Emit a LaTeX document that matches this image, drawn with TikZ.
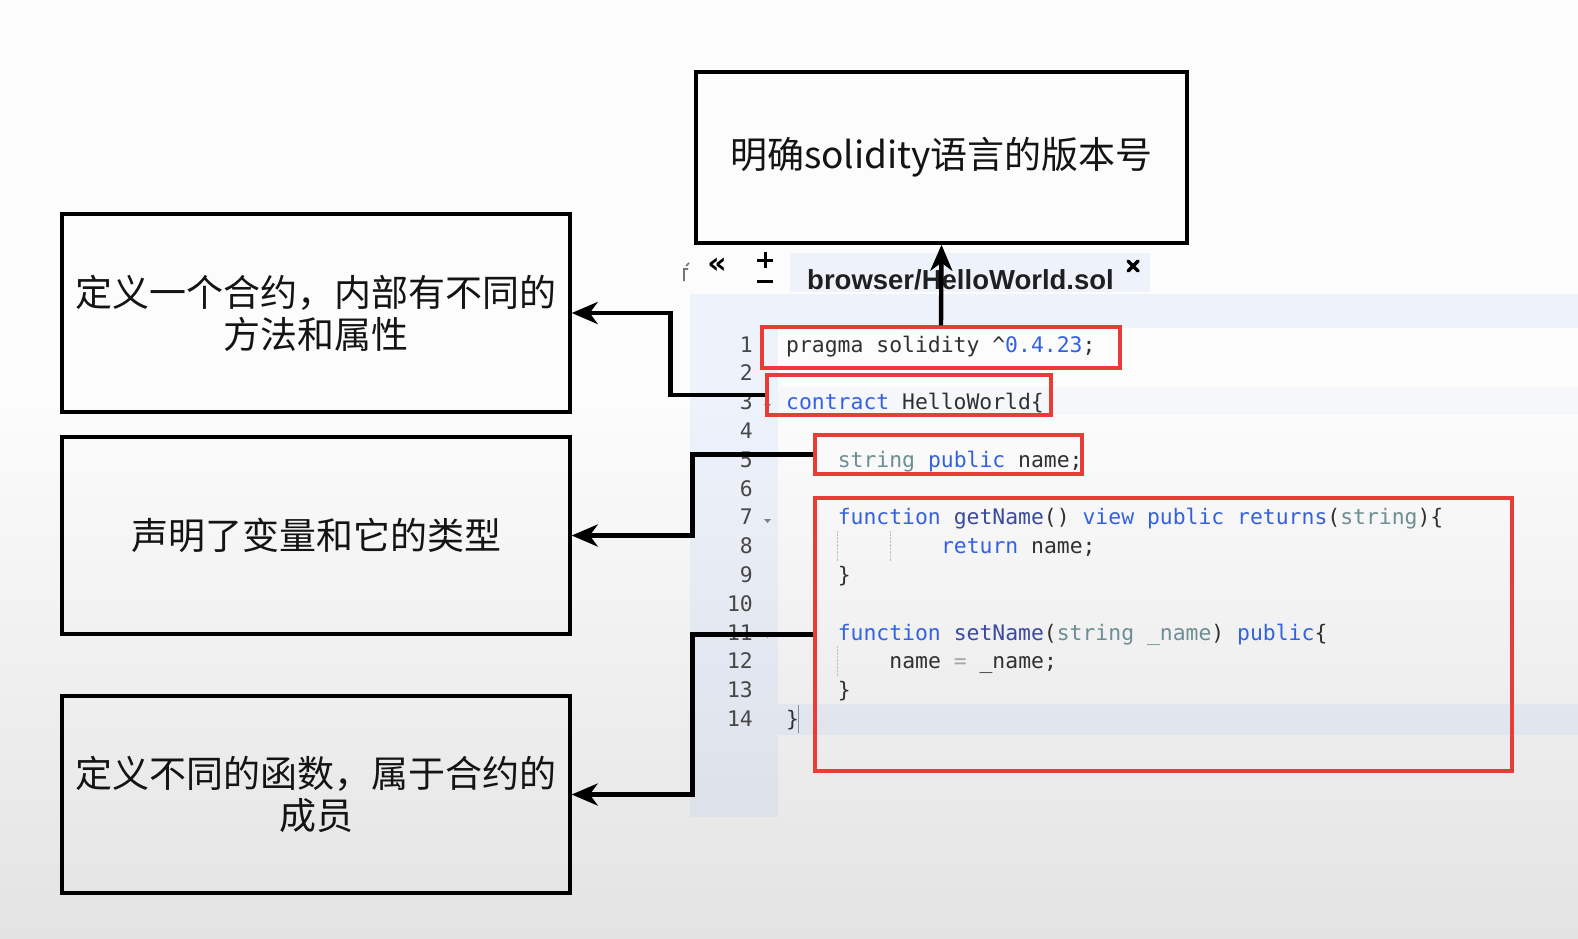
\documentclass[tikz,border=0pt]{standalone}
\usepackage{fontspec}
\newfontfamily\cjk{Noto Sans CJK SC}
\newfontfamily\codefont{DejaVu Sans Mono}
\newfontfamily\tabfont{Liberation Sans}
\newfontfamily\symfont{DejaVu Sans}
\usetikzlibrary{arrows.meta}

\definecolor{bgtop}{RGB}{252,252,252}
\definecolor{bgbot}{RGB}{227,227,227}
\definecolor{kwblue}{RGB}{52,98,222}
\definecolor{tyteal}{RGB}{108,142,148}
\definecolor{fnblue}{RGB}{58,74,158}
\definecolor{codegray}{RGB}{48,48,48}
\definecolor{markred}{RGB}{234,60,54}
\definecolor{paneblue}{RGB}{120,160,250}

\newcommand{\kw}[1]{\textcolor{kwblue}{#1}}
\newcommand{\ty}[1]{\textcolor{tyteal}{#1}}
\newcommand{\fn}[1]{\textcolor{fnblue}{#1}}

\tikzset{
  notebox/.style={draw, line width=3.4pt, minimum width=508pt, minimum height=197pt,
    align=center, text=black!92, font=\cjk\fontsize{37pt}{42pt}\selectfont},
  markbox/.style={draw=markred, line width=3.2pt, inner sep=0pt},
  codeline/.style={anchor=base west, inner sep=0pt, text=codegray,
    font=\codefont\fontsize{21.4pt}{26pt}\selectfont},
  lineno/.style={anchor=base east, inner sep=0pt, text=black!72,
    font=\codefont\fontsize{21.4pt}{26pt}\selectfont},
  pane/.style={fill=paneblue, fill opacity=0.1},
  pointer/.style={line width=4.4pt, -{Stealth[length=26pt,width=22pt,inset=8pt]}},
}

\begin{document}
\begin{tikzpicture}[x=1pt,y=-1pt]
  \useasboundingbox (0,0) rectangle (1578,938);
  % background
  \fill[bgtop] (0,0) rectangle (1578,401);
  \shade[top color=bgtop, bottom color=bgbot] (0,400) rectangle (1578,938);

  % editor
  \fill[pane] (790,253) rectangle (1150,292);
  \fill[pane] (690,294) rectangle (1578,328);
  \fill[pane] (690,328) rectangle (778,817);
  \fill[pane, fill opacity=0.05] (778,387) rectangle (1578,414);
  \fill[pane] (778,704) rectangle (1578,735);
  \node[anchor=base west, inner sep=0pt, text=black!88, font=\tabfont\bfseries\fontsize{27.5pt}{30pt}\selectfont]
    (tab) at (807,289) {browser/HelloWorld.sol};
  \node[inner sep=0pt, font=\symfont\bfseries\fontsize{30pt}{32pt}\selectfont] (fold) at (717,266) {«};
  \draw[line width=3pt] (757,260) -- (773,260) (765,252) -- (765,268);
  \draw[line width=3pt] (757,281) -- (773,281);
  \draw[black!55, line width=1.6pt] (684,281) -- (684,269) -- (688,269) (686,266) -- (689,263);
  \draw[line width=3.5pt, line cap=round] (1128,261) -- (1138,271) (1138,261) -- (1128,271);

  % line numbers
  \foreach \n in {1,...,14}
    \node[lineno] (ln\n) at (753,{352+(\n-1)*28.8}) {\n};
  \foreach \y in {404,519,634}
    \fill[black!50] (764,\y) -- (771,\y) -- (767.5,\y+4) -- cycle;
  \draw[black!25, densely dotted] (837,531) -- (837,561) (890,531) -- (890,561) (837,646) -- (837,676);
  \draw[black!45, line width=1pt] (798,705) -- (798,733);

  % code
  \node[codeline] (code1) at (786,352) {pragma solidity \textasciicircum\kw{0.4.23};};
  \node[codeline] (code3) at (786,409.6) {\kw{contract} HelloWorld\{};
  \node[codeline] (code5) at (837.6,467.2) {\ty{string} \kw{public} name;};
  \node[codeline] (code7) at (837.6,524.8) {\kw{function} \fn{getName}() \kw{view} \kw{public} \kw{returns}(\ty{string})\{};
  \node[codeline] (code8) at (940.8,553.6) {\kw{return} name;};
  \node[codeline] (code9) at (837.6,582.4) {\}};
  \node[codeline] (code11) at (837.6,640) {\kw{function} \fn{setName}(\ty{string \_name}) \kw{public}\{};
  \node[codeline] (code12) at (889.2,668.8) {name \textcolor{black!35}{=} \_name;};
  \node[codeline] (code13) at (837.6,697.6) {\}};
  \node[codeline] (code14) at (786,726.4) {\}};

  % marked regions
  \node[markbox, minimum width=358pt, minimum height=41pt] (rPragma) at (941,347.5) {};
  \node[markbox, minimum width=284pt, minimum height=40pt] (rContract) at (909,395) {};
  \node[markbox, minimum width=267pt, minimum height=39pt] (rName) at (948.5,454.5) {};
  \node[markbox, minimum width=697pt, minimum height=273pt] (rFunc) at (1163.5,634.5) {};

  % notes
  \node[notebox, minimum width=491pt, minimum height=171pt] (version) at (941.5,157.5) {明确solidity语言的版本号};
  \node[notebox, minimum height=198pt] (defContract) at (316,313) {定义一个合约，内部有不同的\\方法和属性};
  \node[notebox] (declVar) at (316,535.5) {声明了变量和它的类型};
  \node[notebox] (defFunc) at (316,794.5) {定义不同的函数，属于合约的\\成员};

  \draw[pointer] (rPragma.north) -- (version.south);
  \draw[pointer] (rContract.west) -- ++(-95,0) |- (defContract.east);
  \draw[pointer] (rName.west) -- ++(-121,0) |- (declVar.east);
  \draw[pointer] (rFunc.west) -- ++(-121,0) |- (defFunc.east);
\end{tikzpicture}
\end{document}
